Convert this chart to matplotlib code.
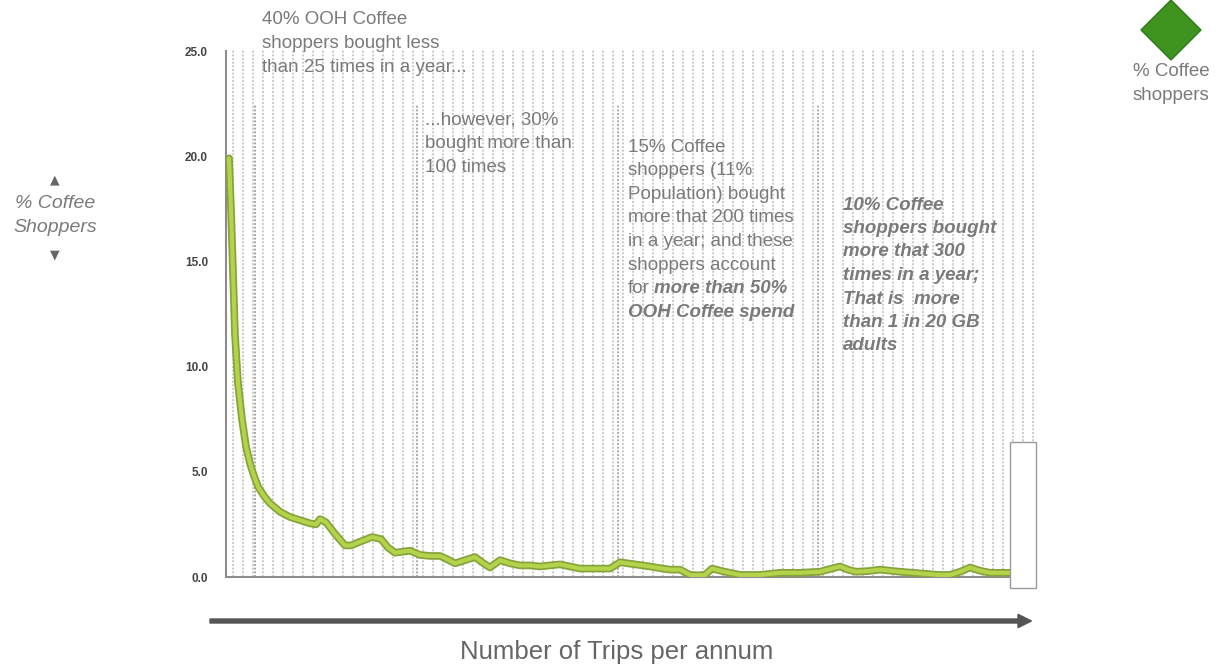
import matplotlib
matplotlib.use("Agg")
import matplotlib.pyplot as plt
import matplotlib.patheffects as pe
from matplotlib.patches import Rectangle, Polygon, FancyArrow

plt.rcParams["font.family"] = ["Liberation Sans", "DejaVu Sans"]

# curve: position on the trip axis (bin units) and % of coffee shoppers
bin_pos = [0.3, 0.5, 0.7, 0.9, 1.2, 1.6, 2.0, 2.4, 2.8, 3.2, 3.8, 4.4, 5.4,
           6.4, 7.4, 8.4, 9.0, 9.4, 10.0, 10.9, 11.9, 12.5, 13.0, 13.8, 14.6,
           15.5, 16.2, 16.9, 17.6, 18.4, 19.4, 20.4, 21.4, 22.1, 22.9, 23.9,
           24.9, 25.6, 26.4, 27.4, 28.4, 29.4, 30.4, 31.4, 32.4, 33.4, 34.4,
           35.4, 36.9, 38.4, 39.4, 40.9, 42.4, 43.4, 44.4, 45.4, 46.4, 47.2,
           47.9, 48.6, 49.9, 51.4, 53.4, 55.4, 57.4, 59.4, 60.4, 61.4, 62.2,
           63.0, 64.2, 65.4, 66.4, 67.4, 68.7, 70.0, 71.2, 72.4, 73.4, 74.4,
           75.4, 76.4, 77.4, 78.4]
pct_shoppers = [19.9, 17.5, 14.5, 11.5, 9.2, 7.5, 6.2, 5.4, 4.8, 4.3, 3.85, 3.5,
                3.1, 2.85, 2.7, 2.55, 2.5, 2.75, 2.6, 2.05, 1.5, 1.5, 1.6,
                1.75, 1.9, 1.8, 1.4, 1.15, 1.2, 1.25, 1.05, 1.0, 1.0, 0.85,
                0.65, 0.8, 0.95, 0.7, 0.45, 0.8, 0.65, 0.55, 0.55, 0.5, 0.55,
                0.6, 0.5, 0.4, 0.4, 0.4, 0.7, 0.6, 0.5, 0.42, 0.35, 0.35, 0.1,
                0.08, 0.1, 0.4, 0.25, 0.1, 0.1, 0.2, 0.2, 0.25, 0.38, 0.5,
                0.35, 0.25, 0.28, 0.35, 0.3, 0.25, 0.2, 0.15, 0.1, 0.1, 0.25,
                0.45, 0.3, 0.2, 0.2, 0.2]

y_ticks = [0, 5, 10, 15, 20, 25]
section_pos = [2.9, 19.1, 39.2, 59.2]   # 25 / 100 / 200 / 300 trips

TEXT_GREY = "#7a7a7a"
W, H = 1225, 667

fig = plt.figure(figsize=(W / 100, H / 100), dpi=100)
ax = fig.add_axes([226 / W, 1 - 577 / H, 786 / W, 526 / H])
ax.set_xlim(0, 78.6)
ax.set_ylim(0, 25)

# dotted background grid (runs a little past the axis end, behind the box)
for k in range(81):
    ax.plot([0.7 + k, 0.7 + k], [0, 25.1], color="#bdbdbd", lw=1.1,
            ls=(0, (1.3, 1.1)), zorder=1, clip_on=False)
for s in section_pos:
    ax.plot([s, s], [0, 22.5], color="#959595", lw=1.1, ls=(0, (1.3, 1.1)), zorder=1)

ax.plot(bin_pos, pct_shoppers, color="#b3d44a", lw=3, solid_joinstyle="round",
        solid_capstyle="round", zorder=3,
        path_effects=[pe.Stroke(linewidth=5.5, foreground="#86a23a"), pe.Normal()])

ax.set_yticks(y_ticks)
ax.set_yticklabels([f"{v:.1f}" for v in y_ticks], fontsize=8.5, fontweight="bold",
                   color="#444444")
ax.set_xticks([])
ax.tick_params(axis="y", length=0, pad=13)
for side in ["top", "right"]:
    ax.spines[side].set_visible(False)
for side in ["left", "bottom"]:
    ax.spines[side].set_color("#8c8c8c")
    ax.spines[side].set_linewidth(1.5)

# white box at the end of the axis
ax.add_patch(Rectangle((78.4, -0.5), 2.6, 6.9, facecolor="white", edgecolor="#9a9a9a",
                       lw=1, clip_on=False, zorder=4))


def text_lines(x_px, y_px, lines, pitch=23.6, **kw):
    out = []
    for i, ln in enumerate(lines):
        out.append(fig.text(x_px / W, 1 - (y_px + i * pitch) / H, ln, va="center",
                            color=TEXT_GREY, **kw))
    return out


fs = 13.5
bi = dict(fontweight="bold", style="italic")
text_lines(262, 20, ["40% OOH Coffee", "shoppers bought less",
                     "than 25 times in a year..."], fontsize=fs)
text_lines(425, 120, ["...however, 30%", "bought more than", "100 times"], fontsize=fs)
block = text_lines(628, 147, ["15% Coffee", "shoppers (11%", "Population) bought",
                              "more that 200 times", "in a year; and these",
                              "shoppers account", "for"], fontsize=fs)
fig.canvas.draw()
x_end = block[-1].get_window_extent().x1
text_lines(x_end + 4, 147 + 6 * 23.6, ["more than 50%"], fontsize=fs, **bi)
text_lines(628, 147 + 7 * 23.6, ["OOH Coffee spend"], fontsize=fs, **bi)
text_lines(843, 205, ["10% Coffee", "shoppers bought", "more that 300",
                      "times in a year;", "That is  more", "than 1 in 20 GB",
                      "adults"], pitch=23.5, fontsize=fs, **bi)

# y label with arrows
fig.text(55 / W, 1 - 180 / H, "▲", ha="center", va="center", fontsize=9,
         color="#666666", family="DejaVu Sans")
text_lines(55, 203, ["% Coffee", "Shoppers"], pitch=24, fontsize=14, ha="center",
           style="italic")
fig.text(55 / W, 1 - 255 / H, "▼", ha="center", va="center", fontsize=9,
         color="#666666", family="DejaVu Sans")

# x axis arrow and label
fig.add_artist(FancyArrow(210 / W, 1 - 621 / H, 808 / W, 0, width=0.006,
                          head_width=0.02, head_length=0.011, color="#555555",
                          transform=fig.transFigure))
fig.text(617 / W, 1 - 652 / H, "Number of Trips per annum", ha="center",
         va="center", fontsize=18.5, color="#666666")

# legend: green diamond
cx, cy, r = 1171 / W, 1 - 30 / H, 30
fig.add_artist(Polygon([(cx - r / W, cy), (cx, cy + r / H), (cx + r / W, cy),
                        (cx, cy - r / H)], closed=True, facecolor="#3f9420",
                       edgecolor="#2f7a18", lw=1, transform=fig.transFigure))
text_lines(1171, 72, ["% Coffee", "shoppers"], pitch=23, fontsize=13.5, ha="center")

fig.savefig("out.png", dpi=100)
